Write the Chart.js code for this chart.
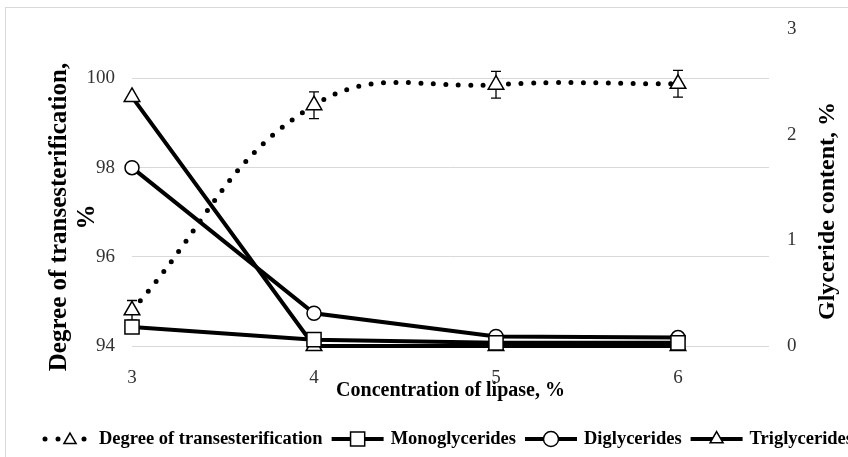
<!DOCTYPE html>
<html lang="en">
<head>
<meta charset="UTF-8">
<title>Concentration of lipase</title>
<script src="https://cdn.jsdelivr.net/npm/chart.js"></script>
<style>
  html, body { margin: 0; padding: 0; background: #fff; overflow: hidden; width: 848px; height: 457px; }
  #frame { position: absolute; left: 5px; top: 7px; width: 900px; height: 500px; border: 1px solid #d9d9d9; }
  #wrap { position: absolute; left: 0; top: 0; width: 848px; height: 457px; }
</style>
</head>
<body>
<div id="frame"></div>
<div id="wrap"><canvas id="chart" width="848" height="457"></canvas></div>
<script>
// data
const lipase = [3, 4, 5, 6];
const transesterification = [94.8, 99.4, 99.86, 99.88];
const transError = [0.22, 0.3, 0.3, 0.3];
const monoglycerides = [0.18, 0.06, 0.03, 0.03];
const diglycerides = [1.69, 0.31, 0.09, 0.08];
const triglycerides = [2.36, 0.0, 0.0, 0.0];
const leftTicks = [94, 96, 98, 100];
const rightTicks = [0, 1, 2, 3];
const seriesNames = ['Degree of transesterification', 'Monoglycerides', 'Diglycerides', 'Triglycerides'];

const SERIF = '"Liberation Serif", "Times New Roman", serif';
const pts = vals => lipase.map((x, i) => ({ x: x, y: vals[i] }));

// error bars under the triangles of the first series
const errorBars = {
    id: 'errorBars',
    beforeDatasetsDraw(chart) {
        const ctx = chart.ctx, xs = chart.scales.x, ys = chart.scales.y;
        ctx.save();
        ctx.strokeStyle = '#000';
        ctx.lineWidth = 1.3;
        lipase.forEach((x, i) => {
            const px = xs.getPixelForValue(x);
            const top = ys.getPixelForValue(transesterification[i] + transError[i]);
            const bot = ys.getPixelForValue(transesterification[i] - transError[i]);
            ctx.beginPath();
            ctx.moveTo(px, top); ctx.lineTo(px, bot);
            ctx.moveTo(px - 5, top); ctx.lineTo(px + 5, top);
            ctx.moveTo(px - 5, bot); ctx.lineTo(px + 5, bot);
            ctx.stroke();
        });
        ctx.restore();
    }
};

function marker(ctx, style, x, y, r) {
    ctx.beginPath();
    if (style === 'triangle') {
        ctx.moveTo(x, y - r);
        ctx.lineTo(x + r * 0.866, y + r * 0.5);
        ctx.lineTo(x - r * 0.866, y + r * 0.5);
        ctx.closePath();
    } else if (style === 'rect') {
        const s = r * 0.707;
        ctx.rect(x - s, y - s, 2 * s, 2 * s);
    } else {
        ctx.arc(x, y, r, 0, Math.PI * 2);
    }
    ctx.fillStyle = '#fff';
    ctx.fill();
    ctx.lineWidth = 1.5;
    ctx.strokeStyle = '#000';
    ctx.stroke();
}

// y titles and the legend row
const extras = {
    id: 'extras',
    afterDraw(chart) {
        const ctx = chart.ctx;
        ctx.save();
        ctx.fillStyle = '#000';
        ctx.textAlign = 'center';
        ctx.textBaseline = 'middle';

        ctx.font = 'bold 25px ' + SERIF;
        ctx.save(); ctx.translate(60, 217); ctx.rotate(-Math.PI / 2);
        ctx.fillText('Degree of transesterification,', 0, 0);
        ctx.restore();
        ctx.save(); ctx.translate(88, 217); ctx.rotate(-Math.PI / 2);
        ctx.fillText('%', 0, 0);
        ctx.restore();

        ctx.font = 'bold 24px ' + SERIF;
        ctx.save(); ctx.translate(828, 211); ctx.rotate(-Math.PI / 2);
        ctx.fillText('Glyceride content, %', 0, 0);
        ctx.restore();

        // legend
        const y = 439;
        let x = 40;
        ctx.font = 'bold 18.5px ' + SERIF;
        ctx.textAlign = 'left';
        chart.data.datasets.forEach((ds, i) => {
            const w = 52;
            if (i === 0) {
                ctx.fillStyle = '#000';
                [x + 5, x + 18, x + 44].forEach(dx => {
                    ctx.beginPath(); ctx.arc(dx, y, 2.5, 0, Math.PI * 2); ctx.fill();
                });
                marker(ctx, ds.pointStyle, x + 30, y + 1, 7);
            } else {
                ctx.beginPath();
                ctx.moveTo(x, y); ctx.lineTo(x + w, y);
                ctx.lineWidth = 4; ctx.strokeStyle = '#000';
                ctx.stroke();
                marker(ctx, ds.pointStyle, x + w / 2, y, ds.pointStyle === 'rect' ? 10 : 7.5);
            }
            x += w + 7;
            ctx.fillStyle = '#000';
            ctx.fillText(ds.label, x, y);
            x += ctx.measureText(ds.label).width + 9;
        });
        ctx.restore();
    }
};

const solid = {
    borderColor: '#000',
    borderWidth: 4,
    tension: 0,
    clip: false,
    pointBackgroundColor: '#fff',
    pointBorderColor: '#000',
    pointBorderWidth: 1.5,
    yAxisID: 'y1'
};

new Chart(document.getElementById('chart'), {
    type: 'line',
    data: {
        datasets: [
            {
                label: seriesNames[0],
                data: pts(transesterification),
                yAxisID: 'y',
                clip: false,
                borderColor: '#000',
                borderWidth: 5,
                borderDash: [0, 12.5],
                borderCapStyle: 'round',
                tension: 0.42,
                pointStyle: 'triangle',
                pointRadius: 9,
                pointBackgroundColor: '#fff',
                pointBorderColor: '#000',
                pointBorderWidth: 1.5
            },
            Object.assign({ label: seriesNames[1], data: pts(monoglycerides), pointStyle: 'rect', pointRadius: 10 }, solid),
            Object.assign({ label: seriesNames[2], data: pts(diglycerides), pointStyle: 'circle', pointRadius: 7 }, solid),
            Object.assign({ label: seriesNames[3], data: pts(triglycerides), pointStyle: 'triangle', pointRadius: 9 }, solid)
        ]
    },
    options: {
        responsive: false,
        animation: false,
        devicePixelRatio: 1,
        layout: { padding: { top: 27, left: 0, right: 0, bottom: 0 } },
        plugins: { legend: { display: false }, tooltip: { enabled: false } },
        scales: {
            x: {
                type: 'linear',
                min: 3,
                max: 6.5,
                afterFit: s => { s.height = 111; },
                afterBuildTicks: s => { s.ticks = lipase.map(v => ({ value: v })); },
                grid: { display: false },
                border: { display: false },
                ticks: { padding: 13, color: '#333', font: { family: SERIF, size: 19 } },
                title: {
                    display: true,
                    text: 'Concentration of lipase, %',
                    color: '#000',
                    font: { family: SERIF, size: 20, weight: 'bold' },
                    padding: { top: 0, bottom: 54 }
                }
            },
            y: {
                position: 'left',
                min: 94,
                max: 101.1,
                afterFit: s => { s.width = 132; },
                afterBuildTicks: s => { s.ticks = leftTicks.map(v => ({ value: v })); },
                grid: { color: '#d9d9d9', lineWidth: 1, drawTicks: false },
                border: { display: false },
                ticks: { padding: 17, color: '#333', font: { family: SERIF, size: 19 } }
            },
            y1: {
                position: 'right',
                min: 0,
                max: 3,
                afterFit: s => { s.width = 79; },
                afterBuildTicks: s => { s.ticks = rightTicks.map(v => ({ value: v })); },
                grid: { display: false, drawTicks: false },
                border: { display: false },
                ticks: { padding: 18, color: '#333', font: { family: SERIF, size: 19 } }
            }
        }
    },
    plugins: [errorBars, extras]
});
</script>
</body>
</html>
